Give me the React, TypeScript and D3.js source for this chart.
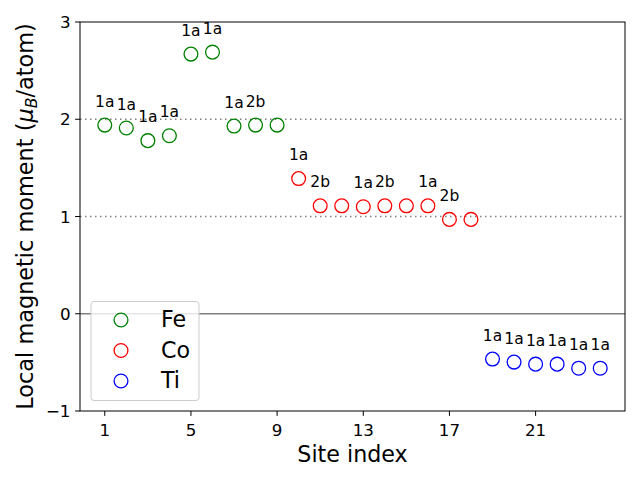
import React from "react";
import * as d3 from "d3";

const feSites = [1, 2, 3, 4, 5, 6, 7, 8, 9];
const feValues = [1.94, 1.91, 1.78, 1.83, 2.67, 2.69, 1.93, 1.94, 1.94];
const feLabels = ["1a", "1a", "1a", "1a", "1a", "1a", "1a", "2b", ""];

const coSites = [10, 11, 12, 13, 14, 15, 16, 17, 18];
const coValues = [1.39, 1.11, 1.11, 1.10, 1.11, 1.11, 1.11, 0.97, 0.97];
const coLabels = ["1a", "2b", "", "1a", "2b", "", "1a", "2b", ""];

const tiSites = [19, 20, 21, 22, 23, 24];
const tiValues = [-0.466, -0.497, -0.518, -0.518, -0.56, -0.56];
const tiLabels = ["1a", "1a", "1a", "1a", "1a", "1a"];

const xTicks = [1, 5, 9, 13, 17, 21];
const yTicks = [-1, 0, 1, 2, 3];
const refLines = [1, 2];

const seriesNames = ["Fe", "Co", "Ti"];
const seriesColors = ["green", "red", "blue"];

const FONT = "DejaVu Sans, sans-serif";

export default function App() {
  const W = 640, H = 480;
  const left = 80, right = 625, top = 22, bottom = 411;
  const x = d3.scaleLinear().domain([-0.15, 25.15]).range([left, right]);
  const y = d3.scaleLinear().domain([-1, 3]).range([bottom, top]);

  const series = [
    { sites: feSites, values: feValues, labels: feLabels },
    { sites: coSites, values: coValues, labels: coLabels },
    { sites: tiSites, values: tiValues, labels: tiLabels },
  ];

  const r = 6.9;

  return (
    <div style={{ position: "absolute", left: 0, top: 0 }}>
      <svg width={W} height={H} style={{ display: "block", background: "white" }} fontFamily={FONT}>
        <rect x={0} y={0} width={W} height={H} fill="white" />
        {refLines.map((v) => (
          <line key={v} x1={left} x2={right} y1={y(v)} y2={y(v)} stroke="#808080" strokeWidth={1.5} strokeDasharray="1.5,3.5" />
        ))}
        <line x1={left} x2={right} y1={y(0)} y2={y(0)} stroke="#808080" strokeWidth={1.5} />
        {series.map((s, si) =>
          s.sites.map((site, i) => (
            <circle key={`${si}-${i}`} cx={x(site)} cy={y(s.values[i])} r={r} fill="none" stroke={seriesColors[si]} strokeWidth={1.3} />
          ))
        )}
        {series.map((s, si) =>
          s.sites.map((site, i) =>
            s.labels[i] ? (
              <text key={`l${si}-${i}`} x={x(site)} y={y(s.values[i]) - 18.5} textAnchor="middle" fontSize={15.5} fill="black">
                {s.labels[i]}
              </text>
            ) : null
          )
        )}
        <rect x={left} y={top} width={right - left} height={bottom - top} fill="none" stroke="black" strokeWidth={1} />
        {xTicks.map((t) => (
          <g key={`x${t}`}>
            <line x1={x(t)} x2={x(t)} y1={bottom} y2={bottom + 4.9} stroke="black" strokeWidth={1} />
            <text x={x(t)} y={bottom + 25} textAnchor="middle" fontSize={16.7}>{t}</text>
          </g>
        ))}
        {yTicks.map((t) => (
          <g key={`y${t}`}>
            <line x1={left - 4.9} x2={left} y1={y(t)} y2={y(t)} stroke="black" strokeWidth={1} />
            <text x={left - 9.5} y={y(t)} dy="0.36em" textAnchor="end" fontSize={16.7}>{t < 0 ? "\u2212" + Math.abs(t) : t}</text>
          </g>
        ))}
        <text x={(left + right) / 2} y={462} textAnchor="middle" fontSize={22.2}>Site index</text>
        <text transform={`translate(33,${(top + bottom) / 2}) rotate(-90)`} textAnchor="middle" fontSize={22.4}>
          Local magnetic moment (<tspan fontStyle="italic">μ</tspan><tspan fontStyle="italic" fontSize={15.7} dy={4}>B</tspan><tspan dy={-4}>/atom)</tspan>
        </text>
        <g>
          <rect x={91} y={301.5} width={108} height={99} rx={3} fill="white" fillOpacity={0.8} stroke="#cccccc" strokeWidth={1} />
          {seriesNames.map((n, i) => (
            <g key={n}>
              <circle cx={121} cy={320 + i * 30.5} r={r} fill="none" stroke={seriesColors[i]} strokeWidth={1.3} />
              <text x={161} y={320 + i * 30.5 + 7} fontSize={22.2}>{n}</text>
            </g>
          ))}
        </g>
      </svg>
    </div>
  );
}
